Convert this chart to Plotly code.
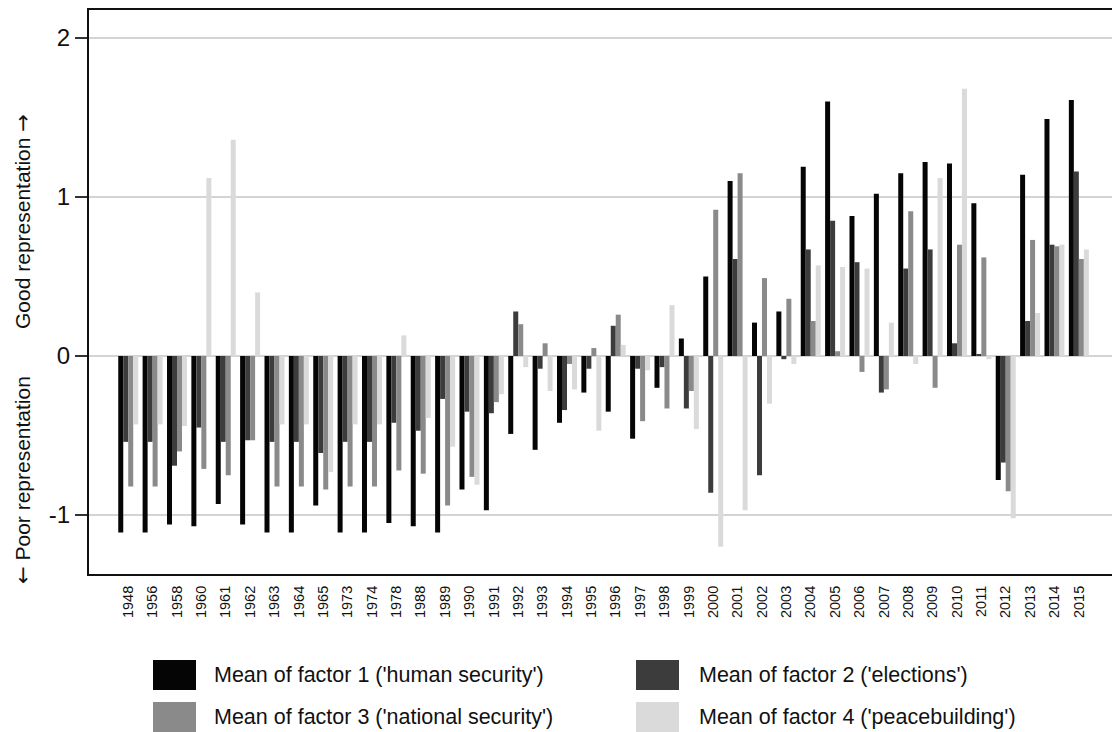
import plotly.graph_objects as go

years = ["1948","1956","1958","1960","1961","1962","1963","1964","1965","1973",
         "1974","1978","1988","1989","1990","1991","1992","1993","1994","1995",
         "1996","1997","1998","1999","2000","2001","2002","2003","2004","2005",
         "2006","2007","2008","2009","2010","2011","2012","2013","2014","2015"]

factor1 = [-1.11,-1.11,-1.06,-1.07,-0.93,-1.06,-1.11,-1.11,-0.94,-1.11,
           -1.11,-1.05,-1.07,-1.11,-0.84,-0.97,-0.49,-0.59,-0.42,-0.23,
           -0.35,-0.52,-0.20,0.11,0.50,1.10,0.21,0.28,1.19,1.60,
           0.88,1.02,1.15,1.22,1.21,0.96,-0.78,1.14,1.49,1.61]
factor2 = [-0.54,-0.54,-0.69,-0.45,-0.54,-0.53,-0.54,-0.54,-0.61,-0.54,
           -0.54,-0.42,-0.47,-0.27,-0.35,-0.36,0.28,-0.08,-0.34,-0.08,
           0.19,-0.08,-0.07,-0.33,-0.86,0.61,-0.75,-0.02,0.67,0.85,
           0.59,-0.23,0.55,0.67,0.08,0.01,-0.67,0.22,0.70,1.16]
factor3 = [-0.82,-0.82,-0.60,-0.71,-0.75,-0.53,-0.82,-0.82,-0.84,-0.82,
           -0.82,-0.72,-0.74,-0.94,-0.76,-0.29,0.20,0.08,-0.05,0.05,
           0.26,-0.41,-0.33,-0.22,0.92,1.15,0.49,0.36,0.22,0.03,
           -0.10,-0.21,0.91,-0.20,0.70,0.62,-0.85,0.73,0.69,0.61]
factor4 = [-0.43,-0.43,-0.44,1.12,1.36,0.40,-0.43,-0.43,-0.73,-0.43,
           -0.43,0.13,-0.39,-0.57,-0.81,-0.24,-0.07,-0.22,-0.21,-0.47,
           0.07,-0.09,0.32,-0.46,-1.20,-0.97,-0.30,-0.05,0.57,0.56,
           0.55,0.21,-0.05,1.12,1.68,-0.02,-1.02,0.27,0.70,0.67]

names = ["Mean of factor 1 ('human security')", "Mean of factor 2 ('elections')",
         "Mean of factor 3 ('national security')", "Mean of factor 4 ('peacebuilding')"]
colors = ["#050505", "#3c3c3c", "#8a8a8a", "#dadada"]
series = [factor1, factor2, factor3, factor4]

fig = go.Figure()
for vals, nm, col in zip(series, names, colors):
    fig.add_trace(go.Bar(x=years, y=vals, name=nm, marker=dict(color=col, line=dict(width=0)),
                         showlegend=False))

W, H = 1112, 732
L, R, T, B = 89, 0, 10, 158
ph = H - T - B

def py(pix):
    return (H - B - pix) / ph

def px(pix):
    return (pix - L) / (W - L - R)

FONT = "Liberation Sans, Arial, sans-serif"
ARROW = "<span style='font-family:DejaVu Sans'>%s</span>"

# custom legend
leg = [(153, 675, 212), (636, 675, 697), (153, 717, 212), (636, 717, 697)]
shapes = []
annotations = []
for (sx, cy, tx), nm, col in zip(leg, names, colors):
    shapes.append(dict(type="rect", xref="paper", yref="paper",
                       x0=px(sx), x1=px(sx + 43), y0=py(cy - 15), y1=py(cy + 15),
                       fillcolor=col, line=dict(width=0)))
    annotations.append(dict(text=nm, xref="paper", yref="paper", x=px(tx), y=py(cy),
                            xanchor="left", yanchor="middle", showarrow=False,
                            font=dict(size=21.5, color="#111", family=FONT)))

annotations.append(dict(text="Good representation " + ARROW % "\u2192", xref="paper", yref="paper",
                        x=px(23), y=py(222), textangle=-90, showarrow=False,
                        xanchor="center", yanchor="middle",
                        font=dict(size=21, color="#111", family=FONT)))
annotations.append(dict(text=ARROW % "\u2190" + " Poor representation", xref="paper", yref="paper",
                        x=px(23), y=py(480), textangle=-90, showarrow=False,
                        xanchor="center", yanchor="middle",
                        font=dict(size=21, color="#111", family=FONT)))

fig.update_layout(
    width=W, height=H,
    margin=dict(l=L, r=R, t=T, b=B, pad=0),
    paper_bgcolor="white", plot_bgcolor="white",
    barmode="group", bargap=0.18, bargroupgap=0,
    font=dict(family=FONT, color="#111"),
    shapes=shapes, annotations=annotations,
)
fig.update_xaxes(type="category", range=[-1.61, 40.36], showgrid=False,
                 showline=True, linecolor="#111", linewidth=2, mirror=True,
                 ticks="", tickangle=-90, tickfont=dict(size=14.5, family=FONT, color="#111"),
                 ticklabelstandoff=4)
fig.update_yaxes(range=[-1.371, 2.176], tickvals=[-1, 0, 1, 2], ticktext=["-1", "0", "1", "2"],
                 showgrid=True, gridcolor="#d4d4d4", gridwidth=1.5,
                 zeroline=True, zerolinecolor="#d4d4d4", zerolinewidth=1.5,
                 showline=True, linecolor="#111", linewidth=2,
                 ticks="outside", ticklen=12, tickcolor="#333", tickwidth=1.5,
                 tickfont=dict(size=24, family=FONT, color="#111"),
                 ticklabelstandoff=0)

fig.write_html("out.html")
